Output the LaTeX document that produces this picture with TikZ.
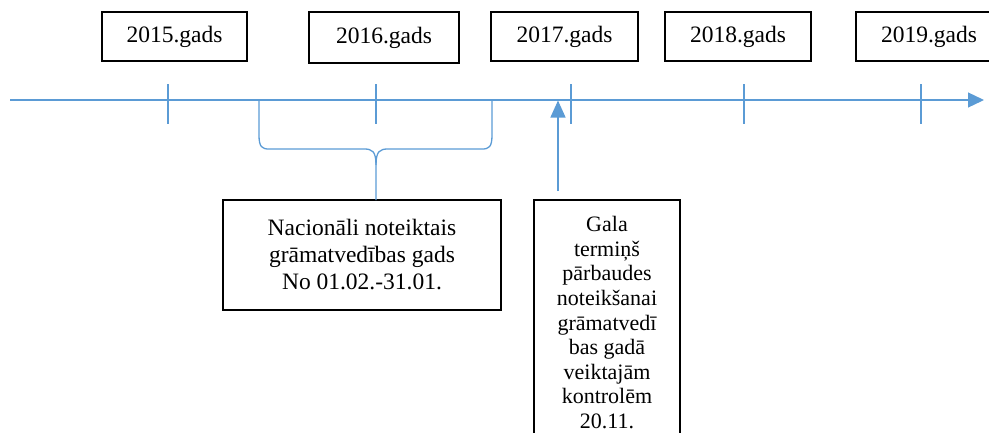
\documentclass[tikz,border=0pt]{standalone}
\usepackage{fontspec}
\setmainfont{Liberation Serif}
\usetikzlibrary{arrows.meta}
\definecolor{axisblue}{RGB}{91,155,213}
\begin{document}
\begin{tikzpicture}[x=1pt,y=-1pt,
  blueline/.style={draw=axisblue,line width=1.3pt},
  bluetip/.style={-{Triangle[length=16pt,width=15pt]}},
  yearbox/.style={draw=black,line width=1.8pt,minimum height=49pt,inner sep=0pt,
    font=\fontsize{23.5}{26}\selectfont},
  notebox/.style={draw=black,line width=1.8pt,inner xsep=0pt,align=center}]
\useasboundingbox (0,0) rectangle (989,432);
\clip (0,0) rectangle (989,432);

% year labels
\node[yearbox,minimum width=145pt] (y2015) at (174.5,36.5) {2015.gads};
\node[yearbox,minimum width=150pt,minimum height=51pt] (y2016) at (384,37.5) {2016.gads};
\node[yearbox,minimum width=147pt] (y2017) at (564.5,36.5) {2017.gads};
\node[yearbox,minimum width=146pt] (y2018) at (738,36.5) {2018.gads};
\node[yearbox,minimum width=146pt] (y2019) at (929,36.5) {2019.gads};

% time axis with year ticks
\coordinate (axL) at (10,100);
\coordinate (axR) at (984,100);
\draw[blueline,bluetip] (axL) -- (axR);
\foreach \x in {168,376,571,744,921}
  \draw[blueline] (\x,84) -- (\x,124);

% national accounting year
\node[notebox,minimum width=278pt,minimum height=110pt,
  font=\fontsize{23.5}{27}\selectfont] (nat) at (362,255)
  {Nacionāli noteiktais\\grāmatvedības gads\\No 01.02.-31.01.};

% brace spanning the accounting year
\coordinate (brL) at (259,99);
\coordinate (brR) at (492,99);
\coordinate (brM) at (376,200);
\draw[blueline]
  (brL) -- (259,135) .. controls (259,147) and (262,149) .. (269,149)
  -- (364,149) .. controls (372,149) and (376,151) .. (376,165) -- (brM);
\draw[blueline]
  (brR) -- (492,135) .. controls (492,147) and (489,149) .. (482,149)
  -- (388,149) .. controls (380,149) and (376,151) .. (376,165);

% deadline box and its pointer
\node[notebox,anchor=north,minimum width=146pt,inner ysep=16.5pt,
  font=\fontsize{22}{24.6}\selectfont] (gala) at (607,199)
  {Gala\\termiņš\\pārbaudes\\noteikšanai\\grāmatvedī\\bas gadā\\veiktajām\\kontrolēm\\20.11.};
\coordinate (deadline) at (558,191);
\coordinate (deadlineTip) at (558,100.5);
\draw[blueline,-{Triangle[length=17pt,width=15pt]}] (deadline) -- (deadlineTip);
\end{tikzpicture}
\end{document}
